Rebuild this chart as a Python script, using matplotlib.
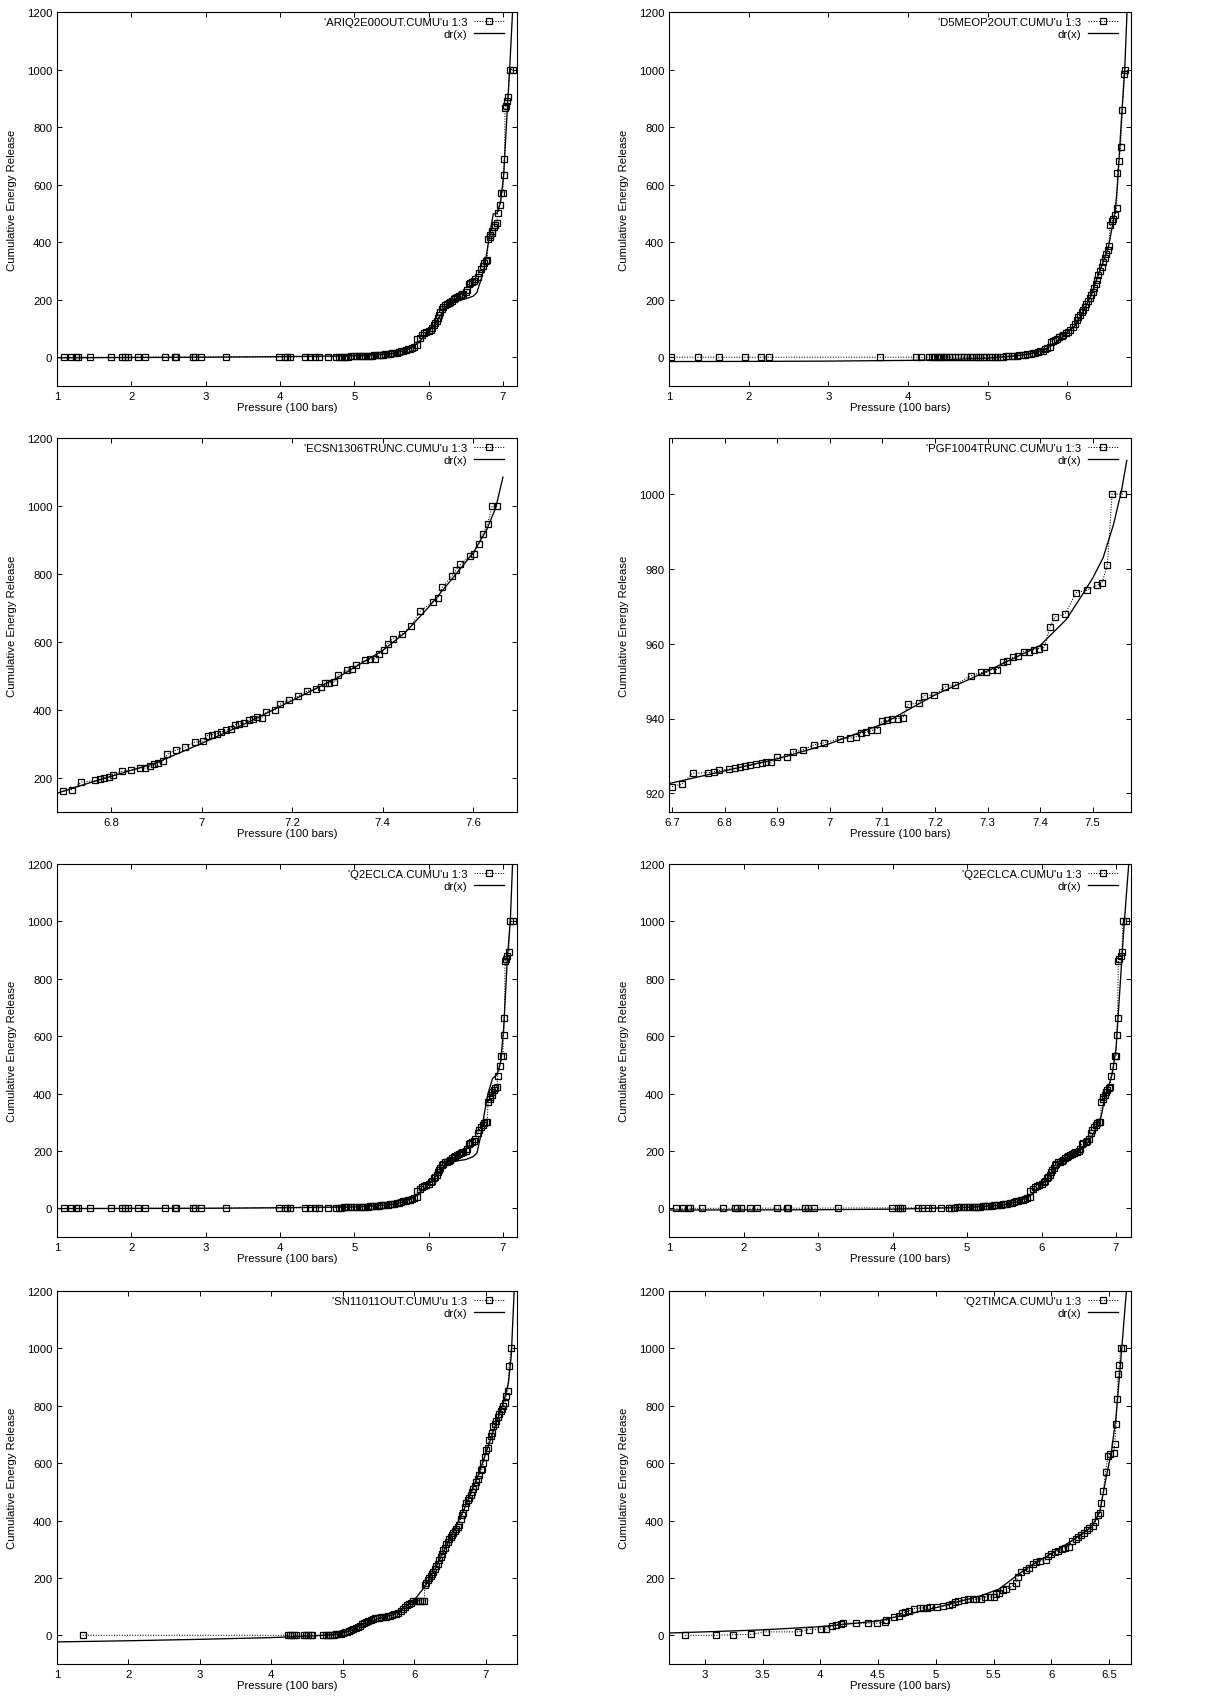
import matplotlib
matplotlib.use('Agg')
import matplotlib.pyplot as plt
from matplotlib.ticker import MultipleLocator, FormatStrFormatter

plt.rcParams['font.family'] = ['Liberation Sans', 'DejaVu Sans']
plt.rcParams['font.size'] = 8.2

# ---------------- 数据：每个面板的累积能量释放点 (压力, 能量) 和拟合曲线 dr(x) ----------------
# 面板1  ARIQ2E00OUT
ariq_p = [1.10, 1.19, 1.25, 1.28, 1.44, 1.73, 1.88, 1.91, 1.96, 2.09,
          2.18, 2.45, 2.59, 2.60, 2.83, 2.86, 2.94, 3.27, 3.99, 4.07,
          4.10, 4.13, 4.34, 4.40, 4.47, 4.53, 4.65, 4.76, 4.79, 4.82,
          4.86, 4.89, 4.92, 4.96, 5.00, 5.03, 5.06, 5.09, 5.12, 5.15,
          5.18, 5.21, 5.24, 5.27, 5.30, 5.33, 5.36, 5.39, 5.42, 5.45,
          5.48, 5.51, 5.54, 5.57, 5.60, 5.63, 5.66, 5.69, 5.72, 5.75,
          5.78, 5.81, 5.84, 5.85, 5.88, 5.91, 5.94, 5.97, 6.00, 6.03,
          6.05, 6.07, 6.09, 6.11, 6.13, 6.14, 6.16, 6.18, 6.20, 6.22,
          6.25, 6.27, 6.29, 6.31, 6.34, 6.36, 6.38, 6.41, 6.43, 6.45,
          6.47, 6.50, 6.52, 6.54, 6.56, 6.59, 6.61, 6.63, 6.66, 6.68,
          6.70, 6.73, 6.75, 6.77, 6.79, 6.80, 6.82, 6.83, 6.85, 6.86,
          6.88, 6.90, 6.92, 6.93, 6.96, 6.98, 7.00, 7.01, 7.02, 7.03,
          7.04, 7.06, 7.07, 7.09, 7.13]
ariq_e = [0, 0, 0, 0, 0, 0, 0, 0, 0, 0.5,
          0.5, 0.5, 0.5, 0.5, 0.5, 0.5, 0.5, 1, 1, 1,
          1, 1, 1.5, 1.5, 1.5, 1.5, 2, 2, 2, 2,
          2.5, 2.5, 2.5, 3, 3, 3, 3.5, 4, 4, 4.5,
          5, 5.5, 6, 6.5, 7, 7.5, 8, 9, 10, 11,
          12, 13, 14, 15, 17, 20, 23, 25, 27, 30,
          33, 37, 42, 62, 68, 76, 84, 88, 92, 96,
          100, 112, 118, 125, 138, 148, 158, 168, 176, 180,
          185, 189, 193, 197, 201, 205, 209, 213, 216, 219,
          221, 226, 232, 255, 258, 262, 266, 272, 280, 292,
          305, 318, 328, 336, 338, 410, 418, 425, 432, 440,
          452, 460, 465, 500, 530, 570, 572, 633, 688, 865,
          875, 890, 905, 1000, 1000]
ariq_fit_p = [1.0, 3.0, 4.0, 5.0, 5.5, 5.7, 5.85, 6.0, 6.1, 6.2, 6.3, 6.4, 6.5,
              6.6, 6.65, 6.7, 6.75, 6.8, 6.87, 6.92, 6.97, 7.01, 7.06, 7.09, 7.13]
ariq_fit_e = [-2, 0, 2, 5, 12, 24, 48, 88, 120, 162, 185, 196, 203,
              212, 225, 265, 310, 390, 498, 500, 540, 632, 863, 996, 1200]

# 面板2  D5MEOP2OUT
d5_p = [1.03, 1.36, 1.63, 1.96, 2.16, 2.25, 3.65, 4.10, 4.16, 4.27,
        4.30, 4.33, 4.36, 4.39, 4.42, 4.45, 4.48, 4.51, 4.55, 4.59,
        4.63, 4.67, 4.70, 4.74, 4.78, 4.81, 4.85, 4.88, 4.91, 4.95,
        4.98, 5.02, 5.05, 5.09, 5.12, 5.16, 5.19, 5.23, 5.26, 5.30,
        5.33, 5.37, 5.40, 5.44, 5.47, 5.50, 5.54, 5.57, 5.60, 5.63,
        5.66, 5.69, 5.72, 5.75, 5.78, 5.80, 5.82, 5.85, 5.87, 5.90,
        5.93, 5.95, 5.98, 6.01, 6.04, 6.07, 6.10, 6.12, 6.14, 6.16,
        6.18, 6.20, 6.22, 6.24, 6.26, 6.28, 6.30, 6.32, 6.34, 6.36,
        6.37, 6.39, 6.41, 6.43, 6.45, 6.47, 6.49, 6.51, 6.52, 6.54,
        6.56, 6.58, 6.60, 6.62, 6.63, 6.65, 6.67, 6.69, 6.71, 6.73]
d5_e = [0, 0, 0, 0, 0, 0, 0, 0, 0, 0,
        0, 0, 0, 0, 0, 0, 0, 0, 0, 0,
        0, 0, 0, 0, 0, 0, 0.5, 0.5, 0.5, 0.5,
        1, 1, 1, 1.5, 2, 2, 2.5, 3, 3.5, 4,
        5, 6, 7, 8, 9, 10, 12, 13, 15, 17,
        20, 23, 27, 31, 36, 52, 56, 60, 64, 70,
        75, 78, 83, 88, 96, 104, 115, 128, 140, 148,
        156, 165, 175, 185, 196, 206, 216, 228, 242, 255,
        268, 285, 298, 315, 330, 345, 358, 372, 385, 460,
        472, 482, 495, 520, 640, 683, 730, 858, 985, 1000]
d5_fit_p = [1.0, 2.0, 3.0, 4.0, 4.5, 5.0, 5.3, 5.5, 5.7, 5.85, 6.0, 6.1,
            6.2, 6.3, 6.4, 6.45, 6.52, 6.6, 6.63, 6.68, 6.72, 6.75]
d5_fit_e = [-15, -14.5, -13.5, -11, -8, -3, 3, 10, 25, 48, 85, 110,
            158, 215, 295, 330, 388, 505, 597, 828, 991, 1200]

# 面板3  ECSN1306TRUNC
ecsn_p = [6.694, 6.714, 6.734, 6.765, 6.774, 6.784, 6.794, 6.804, 6.824, 6.844,
          6.864, 6.875, 6.885, 6.895, 6.904, 6.914, 6.924, 6.944, 6.964, 6.984,
          7.003, 7.013, 7.023, 7.033, 7.043, 7.053, 7.064, 7.073, 7.083, 7.093,
          7.104, 7.114, 7.123, 7.133, 7.143, 7.163, 7.173, 7.193, 7.213, 7.233,
          7.253, 7.263, 7.273, 7.282, 7.293, 7.302, 7.322, 7.332, 7.342, 7.362,
          7.372, 7.383, 7.392, 7.402, 7.411, 7.423, 7.443, 7.463, 7.483, 7.511,
          7.522, 7.532, 7.553, 7.562, 7.572, 7.592, 7.601, 7.612, 7.622, 7.632,
          7.642, 7.653]
ecsn_e = [161, 166, 188, 193, 196, 200, 203, 210, 220, 223,
          229, 229, 234, 240, 244, 249, 270, 283, 291, 305,
          309, 325, 327, 330, 335, 340, 345, 357, 360, 362,
          370, 375, 380, 377, 394, 401, 417, 428, 440, 456,
          462, 469, 478, 480, 482, 504, 517, 522, 531, 546,
          549, 551, 566, 577, 595, 610, 623, 647, 691, 718,
          729, 761, 794, 811, 828, 852, 860, 889, 919, 948,
          999, 999]
ecsn_fit_p = [6.68, 6.75, 6.8, 6.9, 7.0, 7.1, 7.2, 7.3, 7.4, 7.45, 7.5,
              7.55, 7.6, 7.63, 7.65, 7.666]
ecsn_fit_e = [155, 185, 205, 245, 302, 362, 428, 495, 575, 628, 700,
              780, 862, 930, 995, 1085]

# 面板4  PGF1004TRUNC
pgf_p = [6.700, 6.719, 6.739, 6.769, 6.779, 6.789, 6.809, 6.819, 6.830, 6.839,
         6.849, 6.859, 6.870, 6.879, 6.889, 6.900, 6.919, 6.929, 6.949, 6.969,
         6.989, 7.019, 7.039, 7.049, 7.059, 7.069, 7.079, 7.089, 7.099, 7.109,
         7.119, 7.129, 7.139, 7.149, 7.169, 7.179, 7.199, 7.219, 7.238, 7.268,
         7.288, 7.298, 7.308, 7.319, 7.329, 7.338, 7.349, 7.358, 7.369, 7.379,
         7.388, 7.398, 7.408, 7.419, 7.428, 7.448, 7.468, 7.489, 7.508, 7.518,
         7.528, 7.537, 7.558]
pgf_e = [921.8, 922.5, 925.4, 925.5, 925.8, 926.1, 926.5, 926.7, 926.9, 927.2,
         927.5, 927.9, 928.1, 928.3, 928.3, 929.6, 929.8, 931.0, 931.6, 932.9,
         933.5, 934.6, 934.8, 935.0, 936.2, 936.3, 936.8, 937.0, 939.2, 939.5,
         939.9, 940.0, 940.2, 943.8, 944.1, 946.1, 946.3, 948.4, 949.0, 951.4,
         952.3, 952.3, 953.1, 953.1, 955.0, 955.4, 956.4, 956.6, 957.9, 957.9,
         958.4, 958.7, 959.0, 964.5, 967.1, 968.0, 973.6, 974.3, 975.6, 976.3,
         981.0, 1000.0, 1000.0]
pgf_fit_p = [6.694, 6.8, 6.9, 7.0, 7.1, 7.2, 7.3, 7.4, 7.45, 7.48, 7.5,
             7.52, 7.54, 7.555, 7.565]
pgf_fit_e = [922.6, 926.0, 929.2, 933.3, 938.5, 946.3, 952.7, 959.5, 966.5, 973.0, 977.5,
             983.0, 992.0, 1001.0, 1009.0]

# 面板5/6  Q2ECLCA（同一数据文件，两种拟合）
q2ec_p = [1.10, 1.19, 1.25, 1.28, 1.44, 1.73, 1.88, 1.91, 1.96, 2.09,
          2.18, 2.45, 2.59, 2.60, 2.83, 2.86, 2.94, 3.27, 3.99, 4.07,
          4.10, 4.13, 4.34, 4.40, 4.47, 4.53, 4.65, 4.76, 4.79, 4.82,
          4.86, 4.89, 4.92, 4.96, 5.00, 5.03, 5.06, 5.09, 5.12, 5.15,
          5.18, 5.21, 5.24, 5.27, 5.30, 5.33, 5.36, 5.39, 5.42, 5.45,
          5.48, 5.51, 5.54, 5.57, 5.60, 5.63, 5.66, 5.69, 5.72, 5.75,
          5.78, 5.81, 5.84, 5.85, 5.88, 5.91, 5.94, 5.97, 6.00, 6.03,
          6.05, 6.07, 6.09, 6.11, 6.13, 6.14, 6.16, 6.18, 6.20, 6.22,
          6.25, 6.27, 6.29, 6.31, 6.34, 6.36, 6.38, 6.41, 6.43, 6.45,
          6.47, 6.50, 6.52, 6.54, 6.56, 6.59, 6.61, 6.63, 6.66, 6.68,
          6.70, 6.73, 6.75, 6.77, 6.79, 6.80, 6.82, 6.83, 6.85, 6.86,
          6.88, 6.90, 6.92, 6.93, 6.96, 6.98, 7.00, 7.01, 7.02, 7.03,
          7.04, 7.06, 7.08, 7.09, 7.13]
q2ec_e = [0, 0, 0, 0, 0, 0, 0, 0, 0.5, 0.5,
          0.5, 0.5, 0.5, 0.5, 0.5, 0.5, 0.5, 1, 1.5, 1.5,
          1.5, 1.5, 2, 2, 2, 2, 2.5, 2.5, 2.5, 2.5,
          3, 3, 3, 3.5, 3.5, 4, 4, 4.5, 5, 5.5,
          6, 6.5, 7, 7.5, 8, 9, 10, 11, 12, 13,
          14, 15, 16, 17, 19, 21, 24, 26, 28, 30,
          32, 36, 40, 60, 66, 74, 78, 82, 86, 90,
          95, 104, 110, 115, 125, 132, 140, 152, 156, 160,
          163, 166, 170, 174, 178, 182, 186, 189, 192, 195,
          197, 200, 205, 225, 228, 232, 236, 242, 262, 272,
          282, 292, 296, 300, 302, 370, 380, 388, 395, 405,
          412, 420, 422, 460, 495, 530, 532, 605, 665, 862,
          870, 880, 895, 1000, 1000]
q2ec_fit1_p = [1.0, 3.0, 4.0, 5.0, 5.5, 5.7, 5.85, 6.0, 6.1, 6.2, 6.3, 6.4, 6.5,
               6.6, 6.65, 6.7, 6.75, 6.8, 6.86, 6.92, 6.97, 7.01, 7.06, 7.10, 7.13]
q2ec_fit1_e = [-1, 0, 2, 5, 13, 25, 48, 82, 112, 145, 160, 166, 170,
               180, 192, 250, 330, 400, 452, 466, 510, 626, 870, 1000, 1200]
q2ec_fit2_p = [1.0, 3.0, 4.0, 5.0, 5.5, 5.7, 5.85, 6.0, 6.1, 6.2, 6.3, 6.4,
               6.5, 6.6, 6.7, 6.8, 6.85, 6.9, 6.95, 7.0, 7.05, 7.1, 7.14, 7.17]
q2ec_fit2_e = [-6, -5, -3, 3, 12, 25, 45, 80, 110, 142, 165, 182,
               198, 222, 262, 320, 390, 425, 470, 560, 760, 960, 1100, 1200]

# 面板7  SN11011OUT
sn_p = [1.36, 4.23, 4.26, 4.29, 4.32, 4.35, 4.46, 4.49, 4.52, 4.55,
        4.57, 4.72, 4.76, 4.79, 4.82, 4.85, 4.88, 4.91, 4.94, 4.97,
        5.00, 5.03, 5.06, 5.09, 5.12, 5.15, 5.18, 5.21, 5.24, 5.27,
        5.30, 5.33, 5.36, 5.39, 5.42, 5.45, 5.48, 5.51, 5.54, 5.57,
        5.60, 5.63, 5.66, 5.69, 5.72, 5.75, 5.78, 5.81, 5.84, 5.87,
        5.90, 5.93, 5.96, 5.99, 6.02, 6.05, 6.08, 6.11, 6.14, 6.15,
        6.17, 6.19, 6.21, 6.23, 6.25, 6.27, 6.29, 6.31, 6.33, 6.35,
        6.37, 6.39, 6.41, 6.43, 6.45, 6.47, 6.49, 6.51, 6.53, 6.55,
        6.57, 6.59, 6.61, 6.63, 6.65, 6.67, 6.69, 6.71, 6.73, 6.75,
        6.77, 6.79, 6.81, 6.83, 6.85, 6.87, 6.89, 6.91, 6.93, 6.95,
        6.97, 6.99, 7.01, 7.03, 7.05, 7.07, 7.09, 7.11, 7.13, 7.15,
        7.17, 7.19, 7.21, 7.23, 7.25, 7.27, 7.29, 7.31, 7.33, 7.36]
sn_e = [0, 0, 0, 0, 0, 0, 0, 0, 0, 0,
        0, 0, 0, 0, 1, 1, 2, 3, 4, 6,
        8, 10, 12, 15, 18, 22, 26, 30, 34, 38,
        42, 46, 50, 54, 57, 59, 61, 62, 63, 64,
        65, 67, 69, 71, 73, 76, 79, 85, 92, 100,
        105, 110, 114, 118, 121, 121, 121, 121, 121, 175,
        182, 192, 200, 208, 215, 222, 230, 240, 250, 262,
        272, 285, 298, 305, 318, 325, 335, 342, 350, 358,
        365, 370, 376, 385, 405, 420, 428, 448, 462, 470,
        478, 490, 500, 510, 522, 535, 545, 560, 575, 580,
        600, 622, 645, 652, 680, 695, 705, 728, 738, 748,
        760, 772, 782, 790, 800, 810, 835, 850, 940, 1000]
sn_fit_p = [1.0, 2.0, 3.0, 4.0, 4.3, 4.6, 4.9, 5.1, 5.3, 5.5, 5.7, 5.9,
            6.0, 6.15, 6.3, 6.5, 6.7, 6.9, 7.1, 7.25, 7.32, 7.36, 7.40]
sn_fit_e = [-23, -19, -14, -8, -5, -2, 3, 15, 40, 58, 72, 103,
            122, 170, 235, 335, 440, 560, 705, 810, 880, 975, 1200]

# 面板8  Q2TIMCA
q2ti_p = [2.83, 3.10, 3.24, 3.40, 3.53, 3.81, 3.90, 4.01, 4.05, 4.10,
          4.14, 4.18, 4.20, 4.31, 4.41, 4.49, 4.56, 4.57, 4.64, 4.68,
          4.71, 4.73, 4.77, 4.81, 4.86, 4.89, 4.92, 4.95, 5.01, 5.06,
          5.11, 5.14, 5.17, 5.19, 5.24, 5.28, 5.32, 5.35, 5.39, 5.43,
          5.47, 5.50, 5.52, 5.55, 5.58, 5.61, 5.66, 5.69, 5.71, 5.74,
          5.78, 5.81, 5.84, 5.87, 5.90, 5.95, 5.97, 6.00, 6.03, 6.06,
          6.09, 6.12, 6.15, 6.18, 6.21, 6.23, 6.26, 6.28, 6.31, 6.33,
          6.36, 6.38, 6.40, 6.42, 6.43, 6.45, 6.47, 6.49, 6.51, 6.54,
          6.55, 6.56, 6.57, 6.58, 6.59, 6.60, 6.62]
q2ti_e = [0, 0, 2, 3, 12, 12, 20, 22, 22, 32,
          37, 41, 43, 42, 42, 42, 46, 52, 64, 66,
          78, 80, 85, 93, 95, 95, 96, 98, 98, 102,
          104, 110, 116, 118, 124, 126, 127, 126, 127, 134,
          133, 135, 145, 148, 159, 160, 171, 182, 203, 222,
          226, 235, 249, 255, 258, 263, 278, 284, 290, 293,
          301, 305, 309, 330, 336, 342, 348, 356, 367, 374,
          382, 394, 420, 425, 460, 502, 569, 626, 632, 637,
          666, 736, 823, 910, 942, 1000, 1000]
q2ti_fit_p = [2.69, 3.0, 3.5, 4.0, 4.5, 5.0, 5.4, 5.55, 5.7, 5.8, 6.0, 6.2,
              6.35, 6.42, 6.47, 6.52, 6.56, 6.6, 6.63, 6.65]
q2ti_fit_e = [8, 12, 19, 30, 50, 96, 139, 162, 208, 237, 285, 335,
              378, 430, 540, 640, 760, 950, 1100, 1200]


def plot_panel(ax, p, e, fit_p, fit_e, label, xlim, ylim, xstep, ystep):
    """画一个 gnuplot 风格的面板：数据点(虚线+方块) 和拟合曲线 dr(x)"""
    ax.plot(p, e, color='black', linestyle=(0, (1, 1.5)), linewidth=0.75,
            marker='s', markersize=4.6, markerfacecolor='none',
            markeredgecolor='black', markeredgewidth=0.9, label=label)
    ax.plot(fit_p, fit_e, color='black', linewidth=0.95, label='dr(x)')

    ax.set_xlim(*xlim)
    ax.set_ylim(*ylim)
    ax.xaxis.set_major_locator(MultipleLocator(xstep))
    ax.yaxis.set_major_locator(MultipleLocator(ystep))
    ax.xaxis.set_major_formatter(FormatStrFormatter('%g'))
    ax.yaxis.set_major_formatter(FormatStrFormatter('%g'))
    ax.tick_params(direction='in', length=3.6, width=0.7, top=True, right=True,
                   pad=3.5, labelsize=8.2)
    for s in ax.spines.values():
        s.set_linewidth(0.8)

    ax.set_xlabel('Pressure (100 bars)', labelpad=1)
    ax.set_ylabel('Cumulative Energy Release', labelpad=7)

    # 图例：右上角，文字右对齐，样例线在文字右侧
    ax.legend(loc='upper right', bbox_to_anchor=(1 - 13 / 460, 1 - 5 / 374),
              frameon=False, markerfirst=False, handlelength=2.6,
              handletextpad=0.6, labelspacing=0.2, borderpad=0,
              borderaxespad=0, fontsize=8.2)


if __name__ == '__main__':
    W, H = 1218, 1699
    fig = plt.figure(figsize=(W / 100, H / 100), dpi=100)

    # 每个面板的像素位置 (左, 右) 和 (上, 下)
    cols = [(57, 517), (669, 1131)]
    rows = [(13, 387), (439, 813), (865, 1238), (1292, 1665)]

    def make_ax(r, c):
        (x0, x1), (y0, y1) = cols[c], rows[r]
        return fig.add_axes([x0 / W, 1 - y1 / H, (x1 - x0) / W, (y1 - y0) / H])

    plot_panel(make_ax(0, 0), ariq_p, ariq_e, ariq_fit_p, ariq_fit_e,
               "'ARIQ2E00OUT.CUMU'u 1:3", (1, 7.19), (-100, 1200), 1, 200)
    plot_panel(make_ax(0, 1), d5_p, d5_e, d5_fit_p, d5_fit_e,
               "'D5MEOP2OUT.CUMU'u 1:3", (1, 6.80), (-100, 1200), 1, 200)
    plot_panel(make_ax(1, 0), ecsn_p, ecsn_e, ecsn_fit_p, ecsn_fit_e,
               "'ECSN1306TRUNC.CUMU'u 1:3", (6.68, 7.697), (100, 1200), 0.2, 200)
    plot_panel(make_ax(1, 1), pgf_p, pgf_e, pgf_fit_p, pgf_fit_e,
               "'PGF1004TRUNC.CUMU'u 1:3", (6.694, 7.573), (915, 1015), 0.1, 20)
    plot_panel(make_ax(2, 0), q2ec_p, q2ec_e, q2ec_fit1_p, q2ec_fit1_e,
               "'Q2ECLCA.CUMU'u 1:3", (1, 7.19), (-100, 1200), 1, 200)
    plot_panel(make_ax(2, 1), q2ec_p, q2ec_e, q2ec_fit2_p, q2ec_fit2_e,
               "'Q2ECLCA.CUMU'u 1:3", (1, 7.2), (-100, 1200), 1, 200)
    plot_panel(make_ax(3, 0), sn_p, sn_e, sn_fit_p, sn_fit_e,
               "'SN11011OUT.CUMU'u 1:3", (1, 7.44), (-100, 1200), 1, 200)
    plot_panel(make_ax(3, 1), q2ti_p, q2ti_e, q2ti_fit_p, q2ti_fit_e,
               "'Q2TIMCA.CUMU'u 1:3", (2.69, 6.69), (-100, 1200), 0.5, 200)

    fig.savefig('out.png', dpi=100)
